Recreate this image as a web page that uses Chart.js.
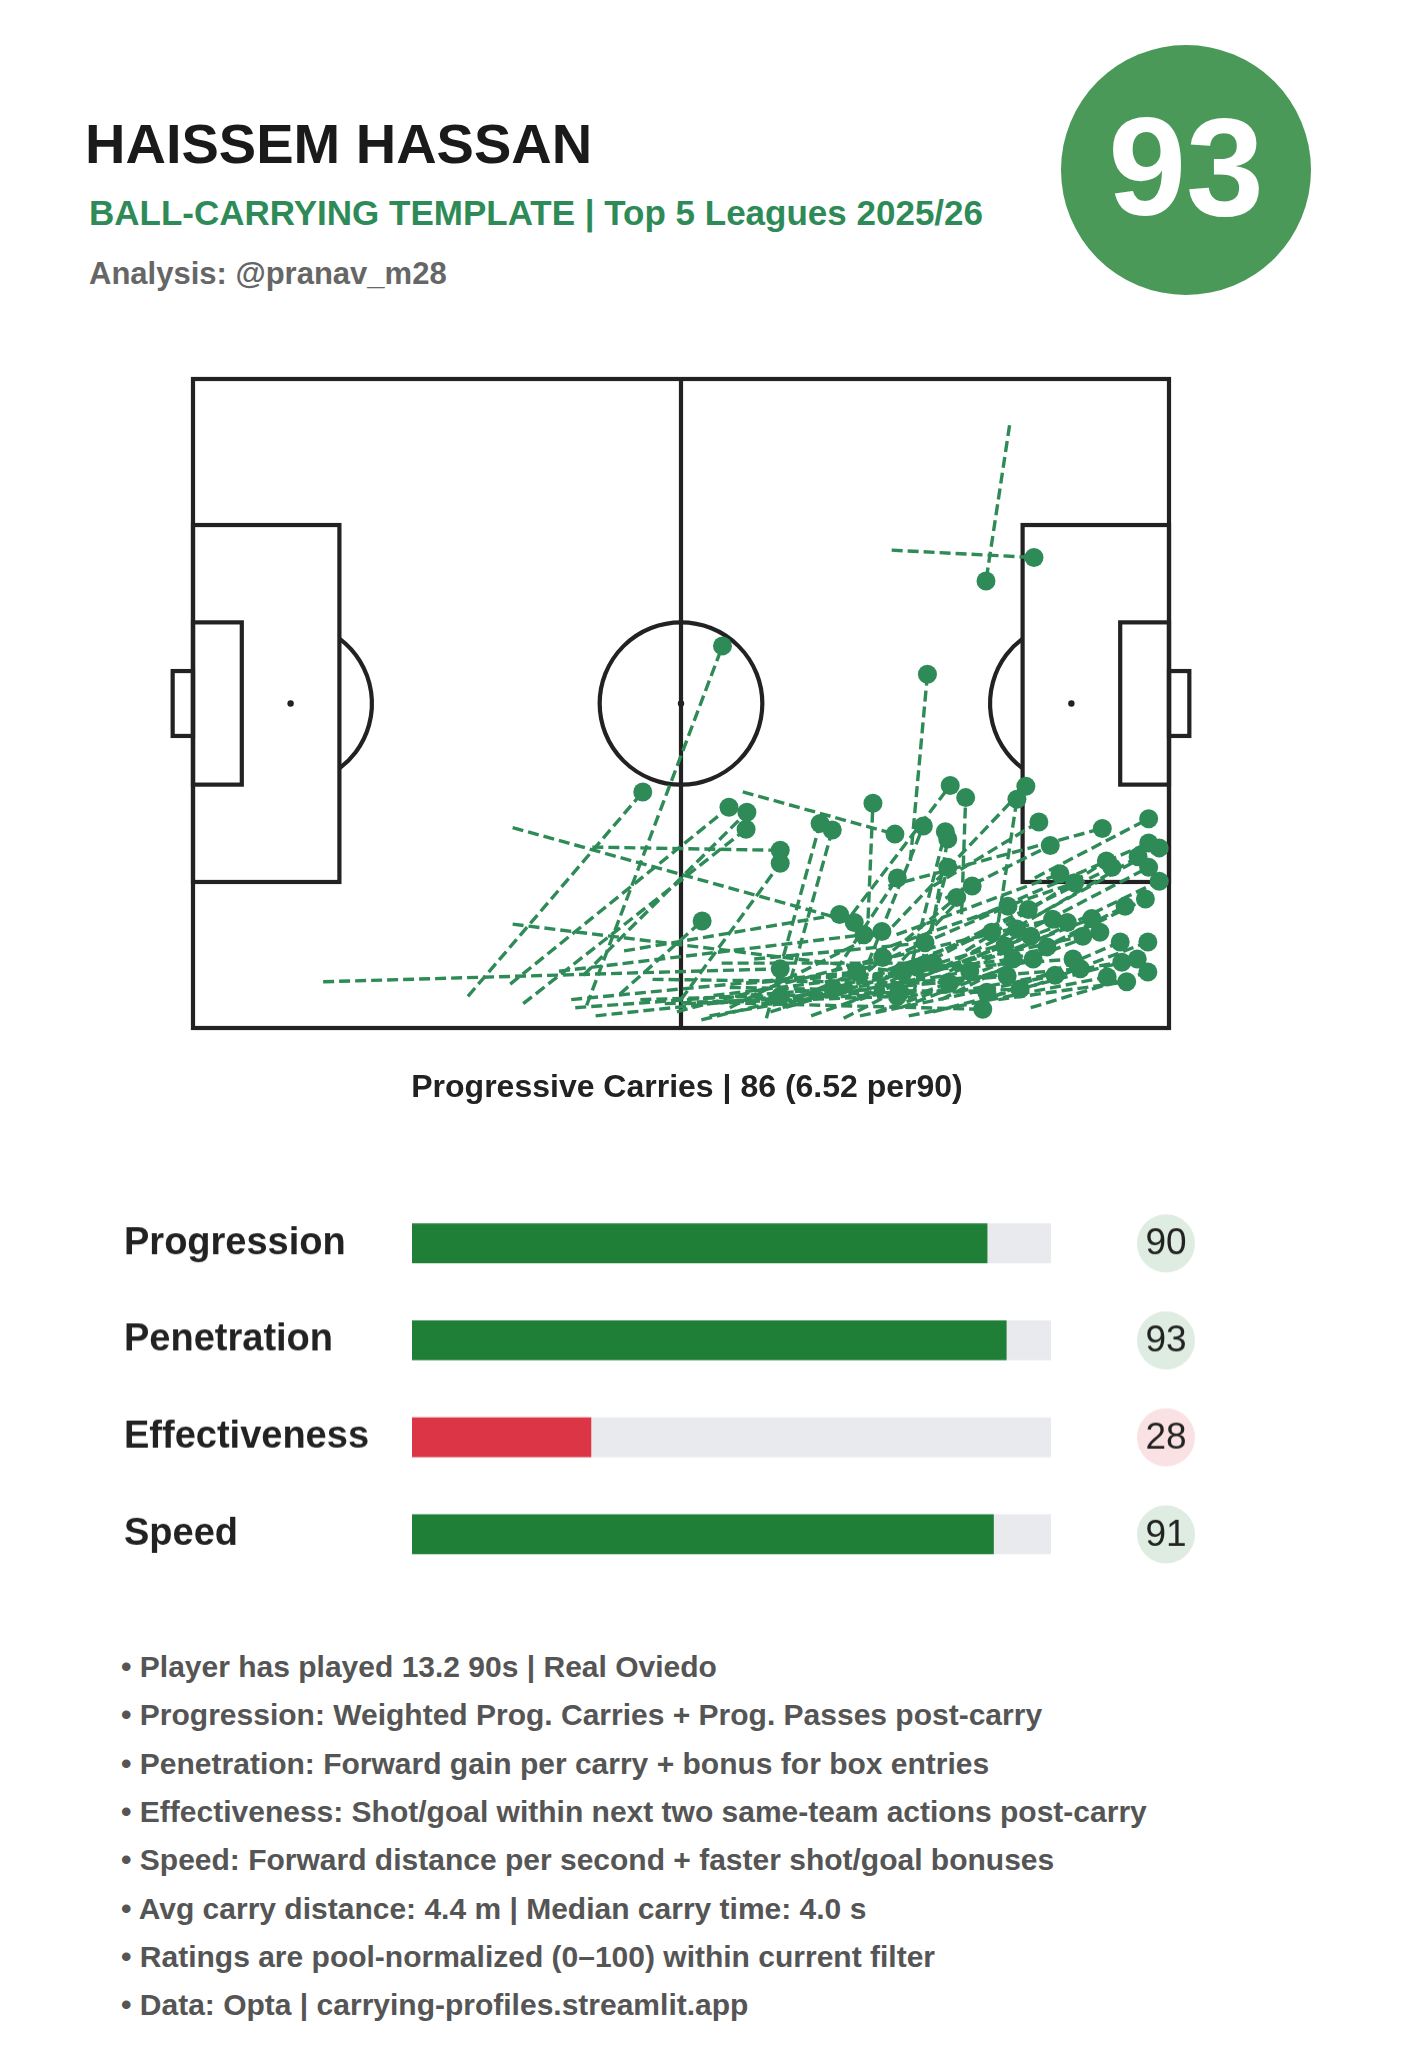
<!DOCTYPE html>
<html>
<head>
<meta charset="utf-8">
<script src="https://cdn.jsdelivr.net/npm/chart.js@4.4.1/dist/chart.umd.min.js"></script>
<style>
  html, body { margin: 0; padding: 0; background: #fff; }
  body { width: 1405px; height: 2048px; position: relative; overflow: hidden;
         font-family: "Liberation Sans", Arial, Helvetica, sans-serif; }
  .abs { position: absolute; white-space: nowrap; }
  #title { left: 85px; top: 116px; font-size: 56px; line-height: 56px; font-weight: bold; color: #1a1a1a; }
  #subtitle { left: 89px; top: 195px; font-size: 35px; line-height: 35px; font-weight: bold; color: #2e8b57; }
  #analysis { left: 89px; top: 258px; font-size: 31px; line-height: 31px; font-weight: bold; color: #666; }
  #badge { left: 1061px; top: 45px; width: 250px; height: 250px; border-radius: 50%; background: #4a9959; }
  #badgeNum { left: 1061px; top: 97px; width: 250px; text-align: center; font-size: 140px; line-height: 140px; font-weight: bold; color: #fff; }
  #caption { left: 0; width: 1374px; top: 1070px; text-align: center; font-size: 32px; line-height: 32px; font-weight: bold; color: #222; }
  .note { left: 121px; font-size: 30px; line-height: 30px; font-weight: bold; color: #555; }
  #pitchWrap { position: absolute; left: 0; top: 340px; width: 1405px; height: 730px; }
  #barsWrap { position: absolute; left: 0; top: 1170px; width: 1405px; }
</style>
</head>
<body>
<div id="title" class="abs"></div>
<div id="subtitle" class="abs"></div>
<div id="analysis" class="abs"></div>
<div id="badge" class="abs"></div>
<div id="badgeNum" class="abs"></div>
<div id="pitchWrap"><canvas id="pitchChart" width="1405" height="730"></canvas></div>
<div id="caption" class="abs"></div>
<div id="barsWrap"><canvas id="barsChart" width="1405" height="440"></canvas></div>
<div id="notes"></div>

<script>
// header
const playerName = 'HAISSEM HASSAN';
const templateText = 'BALL-CARRYING TEMPLATE | Top 5 Leagues 2025/26';
const analysisText = 'Analysis: @pranav_m28';
const overallRating = 93;
const carryCount = 86;
const carriesPer90 = 6.52;

// progressive carries (statsbomb 120x80 pitch)
const startX = [100.4, 85.9, 48.4, 33.8, 88.2, 16.0, 39.3, 39.3, 39.0, 40.6,
  48.0, 49.1, 67.6, 60.0, 70.5, 73.5, 83.0, 81.0, 94.5, 86.0,
  99.0, 83.0, 88.0, 90.5, 88.5, 91.0, 92.5, 85.5, 103.5, 96.0,
  104.0, 95.0, 89.0, 98.0, 93.0, 100.0, 86.5, 84.0, 78.0, 84.5,
  80.0, 52.5, 66.0, 75.0, 80.5, 92.0, 97.0, 87.0, 70.0, 78.5,
  82.0, 72.5, 76.0, 64.0, 84.0, 96.5, 101.5, 91.0, 94.0, 88.0,
  99.0, 103.0, 68.0, 74.0, 58.0, 62.0, 66.0, 55.0, 46.5, 47.0,
  70.0, 59.5, 49.5, 60.5, 80.0, 71.0, 63.5, 65.0, 86.0, 90.0,
  82.0, 56.5, 69.0, 53.0, 45.0, 62.5];
const startY = [5.7, 21.1, 77.2, 76.1, 59.4, 74.3, 55.3, 67.2, 74.6, 77.0,
  73.5, 57.7, 50.9, 76.5, 78.8, 74.0, 66.5, 66.0, 66.0, 67.5,
  67.0, 72.0, 73.5, 70.0, 76.0, 62.5, 64.0, 62.5, 61.5, 66.5,
  66.0, 70.5, 72.0, 69.5, 73.0, 71.0, 68.5, 70.5, 74.5, 74.5,
  75.5, 75.8, 77.5, 76.0, 77.0, 76.5, 74.0, 77.5, 77.0, 73.0,
  76.5, 77.5, 78.5, 76.0, 78.0, 77.0, 75.5, 78.0, 75.5, 78.5,
  76.5, 77.5, 74.5, 75.5, 77.0, 76.8, 75.0, 76.5, 76.5, 77.5,
  76.5, 78.0, 78.5, 77.0, 78.8, 78.0, 78.5, 72.0, 77.0, 74.5,
  78.5, 74.0, 71.5, 70.5, 73.0, 79.0];
const endX = [97.5, 103.4, 65.1, 55.3, 90.3, 72.2, 81.3, 87.3, 65.9, 68.0,
  68.1, 72.2, 86.3, 72.2, 77.1, 78.6, 83.6, 93.1, 95.0, 102.4,
  101.3, 89.8, 92.5, 92.8, 92.8, 104.0, 105.4, 111.8, 117.5, 117.5,
  118.8, 112.3, 113.0, 116.2, 117.5, 118.8, 106.6, 108.4, 86.6, 95.8,
  93.9, 62.6, 84.7, 100.2, 102.7, 114.6, 117.1, 111.5, 109.4, 105.7,
  107.5, 98.2, 99.8, 100.8, 103.3, 114.0, 117.4, 114.2, 116.1, 112.4,
  114.8, 117.4, 108.2, 109.1, 101.7, 97.1, 97.6, 86.9, 81.6, 78.7,
  100.1, 84.8, 72.2, 86.6, 101.3, 103.0, 95.5, 91.0, 105.0, 110.5,
  106.0, 93.0, 90.0, 79.5, 82.5, 89.0];
const endY = [24.9, 22.0, 32.9, 50.9, 36.4, 72.7, 67.0, 73.1, 52.8, 55.5,
  53.4, 58.1, 56.1, 59.7, 54.8, 55.6, 52.3, 50.1, 51.6, 50.2,
  51.8, 55.1, 55.8, 56.7, 60.2, 54.6, 57.5, 55.4, 54.2, 57.2,
  57.8, 59.4, 60.2, 58.9, 60.2, 61.9, 61.0, 62.1, 61.5, 62.5,
  63.9, 66.8, 68.1, 65.0, 65.4, 65.0, 64.1, 68.2, 68.7, 66.6,
  67.0, 68.2, 69.9, 71.5, 71.5, 69.4, 69.4, 71.9, 71.5, 73.7,
  74.3, 73.1, 71.5, 72.7, 75.2, 77.7, 75.6, 75.6, 73.1, 75.2,
  73.6, 71.3, 76.1, 76.1, 67.8, 68.7, 73.0, 72.0, 70.0, 66.5,
  73.5, 74.5, 69.5, 66.0, 68.5, 72.5];

// ratings
const ratingLabels = ['Progression', 'Penetration', 'Effectiveness', 'Speed'];
const ratingValues = [90, 93, 28, 91];
const ratingMax = 100;

const notes = [
  'Player has played 13.2 90s | Real Oviedo',
  'Progression: Weighted Prog. Carries + Prog. Passes post-carry',
  'Penetration: Forward gain per carry + bonus for box entries',
  'Effectiveness: Shot/goal within next two same-team actions post-carry',
  'Speed: Forward distance per second + faster shot/goal bonuses',
  'Avg carry distance: 4.4 m | Median carry time: 4.0 s',
  'Ratings are pool-normalized (0\u2013100) within current filter',
  'Data: Opta | carrying-profiles.streamlit.app'
];

const carryGreen = '#2e8b57';
const lineCol = '#222';

document.getElementById('title').textContent = playerName;
document.getElementById('subtitle').textContent = templateText;
document.getElementById('analysis').textContent = analysisText;
document.getElementById('badgeNum').textContent = overallRating;
document.getElementById('caption').textContent =
  'Progressive Carries | ' + carryCount + ' (' + carriesPer90.toFixed(2) + ' per90)';

const notesBox = document.getElementById('notes');
notes.forEach((t, i) => {
  const d = document.createElement('div');
  d.className = 'abs note';
  d.style.top = (1652 + i * 48.3) + 'px';
  d.textContent = '\u2022 ' + t;
  notesBox.appendChild(d);
});

// pitch markings, drawn through the chart's scales
const pitchPlugin = {
  id: 'pitch',
  beforeDatasetsDraw(chart) {
    const c = chart.ctx;
    const sx = chart.scales.x, sy = chart.scales.y;
    const X = v => sx.getPixelForValue(v);
    const Y = v => sy.getPixelForValue(v);
    const rx = Math.abs(X(10) - X(0)), ry = Math.abs(Y(10) - Y(0));
    c.save();
    c.strokeStyle = lineCol;
    c.fillStyle = lineCol;
    c.lineWidth = 4.2;
    const rect = (x0, y0, x1, y1) => c.strokeRect(X(x0), Y(y0), X(x1) - X(x0), Y(y1) - Y(y0));
    rect(0, 0, 120, 80);
    c.beginPath(); c.moveTo(X(60), Y(0)); c.lineTo(X(60), Y(80)); c.stroke();
    rect(0, 18, 18, 62);
    rect(102, 18, 120, 62);
    rect(0, 30, 6, 50);
    rect(114, 30, 120, 50);
    rect(-2.5, 36, 0, 44);
    rect(120, 36, 122.5, 44);
    c.beginPath(); c.ellipse(X(60), Y(40), rx, ry, 0, 0, Math.PI * 2); c.stroke();
    const a = Math.acos(6 / 10);
    c.beginPath(); c.ellipse(X(12), Y(40), rx, ry, 0, -a, a); c.stroke();
    c.beginPath(); c.ellipse(X(108), Y(40), rx, ry, 0, Math.PI - a, Math.PI + a); c.stroke();
    [[12, 40], [108, 40], [60, 40]].forEach(p => {
      c.beginPath(); c.arc(X(p[0]), Y(p[1]), 3.2, 0, Math.PI * 2); c.fill();
    });
    c.restore();
  }
};

const carrySets = startX.map((x, i) => ({
  data: [{ x: x, y: startY[i] }, { x: endX[i], y: endY[i] }],
  showLine: true,
  borderColor: carryGreen,
  borderWidth: 3.4,
  borderDash: [11, 5],
  pointRadius: 0,
  order: 2
}));

new Chart(document.getElementById('pitchChart').getContext('2d'), {
  type: 'scatter',
  data: {
    datasets: [{
      data: endX.map((x, i) => ({ x: x, y: endY[i] })),
      pointRadius: 9.5,
      backgroundColor: carryGreen,
      borderWidth: 0,
      order: 1
    }].concat(carrySets)
  },
  options: {
    responsive: false,
    animation: false,
    events: [],
    clip: false,
    layout: { padding: { left: 193, right: 236, top: 39, bottom: 42 } },
    plugins: { legend: { display: false }, tooltip: { enabled: false } },
    scales: {
      x: { type: 'linear', min: 0, max: 120, display: false },
      y: { type: 'linear', min: 0, max: 80, reverse: true, display: false }
    }
  },
  plugins: [pitchPlugin]
});

// rating value pills on the right
const pillPlugin = {
  id: 'pills',
  afterDatasetsDraw(chart) {
    const c = chart.ctx;
    const sy = chart.scales.y;
    c.save();
    ratingValues.forEach((v, i) => {
      const y = sy.getPixelForValue(i);
      const x = 1166;
      c.beginPath();
      c.arc(x, y, 29, 0, Math.PI * 2);
      c.fillStyle = v < 50 ? 'rgba(220,53,69,0.15)' : 'rgba(31,127,55,0.15)';
      c.fill();
      c.fillStyle = '#222';
      c.font = '37px "Liberation Sans", Arial, sans-serif';
      c.textAlign = 'center';
      c.textBaseline = 'middle';
      c.fillText(String(v), x, y + 1);
    });
    c.restore();
  }
};

const barsChart = new Chart(document.getElementById('barsChart').getContext('2d'), {
  type: 'bar',
  data: {
    labels: ratingLabels,
    datasets: [
      {
        data: ratingValues,
        backgroundColor: ratingValues.map(v => v < 50 ? '#dc3545' : '#1f7f37'),
        barThickness: 39,
        grouped: false,
        order: 1
      },
      {
        data: ratingValues.map(() => ratingMax),
        backgroundColor: '#e8eaed',
        barThickness: 39,
        grouped: false,
        order: 2
      }
    ]
  },
  options: {
    indexAxis: 'y',
    responsive: false,
    animation: false,
    events: [],
    layout: { padding: { left: 124, right: 349, top: 0, bottom: 0 } },
    plugins: { legend: { display: false }, tooltip: { enabled: false } },
    scales: {
      x: { min: 0, max: ratingMax, display: false },
      y: {
        grid: { display: false },
        border: { display: false },
        afterFit: s => { s.width = 288; },
        ticks: {
          crossAlign: 'far',
          color: '#222',
          font: { family: '"Liberation Sans", Arial, sans-serif', size: 38, weight: 'bold' }
        }
      }
    }
  },
  plugins: [pillPlugin]
});

// place the bar rows: plot area should span 1195..1582 on the page
(function () {
  const area = barsChart.chartArea;
  const extra = 440 - (area.bottom - area.top);
  document.getElementById('barsWrap').style.top = (1195 - area.top) + 'px';
  barsChart.resize(1405, 387 + extra);
})();
</script>
</body>
</html>
